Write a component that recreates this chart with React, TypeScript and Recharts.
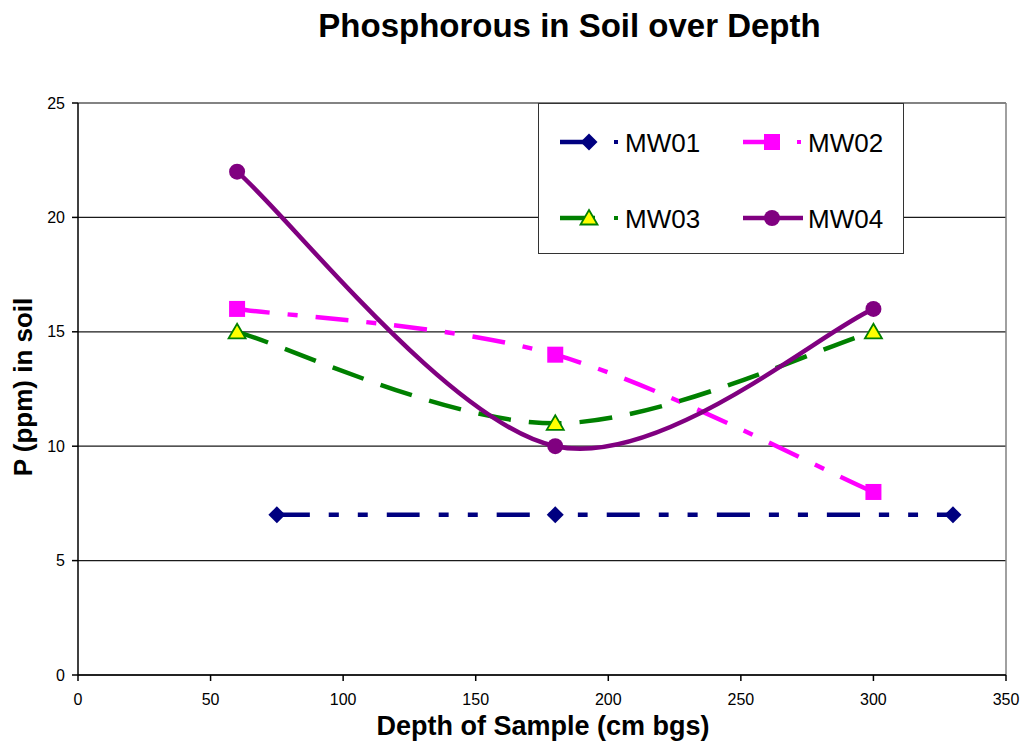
import React from 'react';
import { LineChart, Line, XAxis, YAxis, CartesianGrid, ReferenceLine } from 'recharts';

const seriesNames = ['MW01', 'MW02', 'MW03', 'MW04'];
const mw01Depth = [75, 180, 330];
const mw01P = [7, 7, 7];
const mw02Depth = [60, 180, 300];
const mw02P = [16, 14, 8];
const mw03Depth = [60, 180, 300];
const mw03P = [15, 11, 15];
const mw04Depth = [60, 180, 300];
const mw04P = [22, 10, 16];
const xTicks = [0, 50, 100, 150, 200, 250, 300, 350];
const yTicks = [0, 5, 10, 15, 20, 25];

const toData = (xs: number[], ys: number[]) => xs.map((x, i) => ({ x, y: ys[i] }));

const FONT = '"Liberation Sans", Arial, sans-serif';

// Excel-like smoothed line (Catmull-Rom style bezier)
function smoothCurve(context: any) {
  let pts: [number, number][] = [];
  return {
    areaStart() {},
    areaEnd() {},
    lineStart() {
      pts = [];
    },
    lineEnd() {
      if (!pts.length) return;
      context.moveTo(pts[0][0], pts[0][1]);
      const t = 1 / 6;
      for (let i = 0; i < pts.length - 1; i++) {
        const p0 = pts[Math.max(i - 1, 0)];
        const p1 = pts[i];
        const p2 = pts[i + 1];
        const p3 = pts[Math.min(i + 2, pts.length - 1)];
        context.bezierCurveTo(
          p1[0] + (p2[0] - p0[0]) * t,
          p1[1] + (p2[1] - p0[1]) * t,
          p2[0] - (p3[0] - p1[0]) * t,
          p2[1] - (p3[1] - p1[1]) * t,
          p2[0],
          p2[1]
        );
      }
    },
    point(x: number, y: number) {
      pts.push([x, y]);
    },
  };
}

type Kind = 'diamond' | 'square' | 'triangle' | 'circle';

const Marker = ({ kind, cx, cy }: { kind: Kind; cx: number; cy: number }) => {
  if (kind === 'diamond') {
    return (
      <polygon
        points={`${cx},${cy - 8.5} ${cx + 8.5},${cy} ${cx},${cy + 8.5} ${cx - 8.5},${cy}`}
        fill="#000080"
      />
    );
  }
  if (kind === 'square') {
    return <rect x={cx - 8} y={cy - 8} width={16} height={16} fill="#FF00FF" />;
  }
  if (kind === 'triangle') {
    return (
      <polygon
        points={`${cx},${cy - 8} ${cx + 8.5},${cy + 6.5} ${cx - 8.5},${cy + 6.5}`}
        fill="#FFFF00"
        stroke="#008000"
        strokeWidth={1.8}
      />
    );
  }
  return <circle cx={cx} cy={cy} r={8} fill="#800080" />;
};

const series = [
  { name: seriesNames[0], data: toData(mw01Depth, mw01P), color: '#000080', dash: '33 19 10 19 10 19', kind: 'diamond' as Kind },
  { name: seriesNames[1], data: toData(mw02Depth, mw02P), color: '#FF00FF', dash: '33 18 10 18', kind: 'square' as Kind },
  { name: seriesNames[2], data: toData(mw03Depth, mw03P), color: '#008000', dash: '33 18', kind: 'triangle' as Kind },
  { name: seriesNames[3], data: toData(mw04Depth, mw04P), color: '#800080', dash: undefined, kind: 'circle' as Kind },
];

const LegendBox = () => {
  const pos = [
    { x: 0, y: 0 },
    { x: 183, y: 0 },
    { x: 0, y: 76 },
    { x: 183, y: 76 },
  ];
  return (
    <div
      style={{
        position: 'absolute',
        left: 538,
        top: 103,
        width: 366,
        height: 151,
        border: '1px solid #333',
        background: '#fff',
        boxSizing: 'border-box',
      }}
    >
      <svg width={366} height={151} style={{ position: 'absolute', left: -1, top: -1 }}>
        {series.map((s, i) => {
          const p = pos[i];
          const cy = 39 + p.y;
          const solid = !s.dash;
          return (
            <g key={s.name}>
              <line
                x1={22 + p.x}
                x2={(solid ? 82 : 57) + p.x}
                y1={cy}
                y2={cy}
                stroke={s.color}
                strokeWidth={4.5}
              />
              {!solid && <rect x={76 + p.x} y={cy - 2} width={4} height={4} fill={s.color} />}
              <Marker kind={s.kind} cx={51 + p.x} cy={cy} />
              <text x={87 + p.x} y={cy + 9.5} fontSize={26} fontFamily={FONT} fill="#000">
                {s.name}
              </text>
            </g>
          );
        })}
      </svg>
    </div>
  );
};

export default function App() {
  return (
    <div style={{ position: 'absolute', left: 0, top: 0, width: 1023, height: 748, background: '#fff', fontFamily: FONT }}>
      <div
        style={{
          position: 'absolute',
          left: 0,
          width: 1139,
          top: 7,
          textAlign: 'center',
          fontSize: 33,
          fontWeight: 'bold',
          lineHeight: '38px',
          color: '#000',
        }}
      >
        Phosphorous in Soil over Depth
      </div>
      <LineChart width={1023} height={748} margin={{ top: 103, right: 17, bottom: 33, left: 18 }}>
        <CartesianGrid horizontal vertical={false} stroke="#1a1a1a" strokeWidth={1.2} />
        <XAxis
          type="number"
          dataKey="x"
          domain={[0, 350]}
          ticks={xTicks}
          height={40}
          stroke="#000"
          strokeWidth={1.5}
          tickSize={6}
          tickMargin={13}
          tick={{ fontSize: 16, fill: '#000', fontFamily: FONT }}
          allowDuplicatedCategory={false}
        />
        <YAxis
          type="number"
          dataKey="y"
          domain={[0, 25]}
          ticks={yTicks}
          width={60}
          stroke="#000"
          strokeWidth={1.5}
          tickSize={6}
          tickMargin={7}
          tick={{ fontSize: 16, fill: '#000', fontFamily: FONT }}
        />
        <ReferenceLine y={25} stroke="#808080" strokeWidth={1.5} />
        <ReferenceLine x={350} stroke="#808080" strokeWidth={1.5} />
        {series.map((s) => (
          <Line
            key={s.name}
            name={s.name}
            data={s.data}
            dataKey="y"
            type={smoothCurve as any}
            stroke={s.color}
            strokeWidth={4.5}
            strokeDasharray={s.dash}
            isAnimationActive={false}
            dot={(props: any) => <Marker key={`${s.name}-${props.index}`} kind={s.kind} cx={props.cx} cy={props.cy} />}
            activeDot={false}
          />
        ))}
      </LineChart>
      <div
        style={{
          position: 'absolute',
          left: 0,
          width: 1086,
          top: 711,
          textAlign: 'center',
          fontSize: 27,
          fontWeight: 'bold',
          lineHeight: '30px',
          color: '#000',
        }}
      >
        Depth of Sample (cm bgs)
      </div>
      <div
        style={{
          position: 'absolute',
          left: 23,
          top: 387,
          transform: 'translate(-50%, -50%) rotate(-90deg)',
          whiteSpace: 'nowrap',
          fontSize: 26,
          fontWeight: 'bold',
          lineHeight: '30px',
          color: '#000',
        }}
      >
        P (ppm) in soil
      </div>
      <LegendBox />
    </div>
  );
}
